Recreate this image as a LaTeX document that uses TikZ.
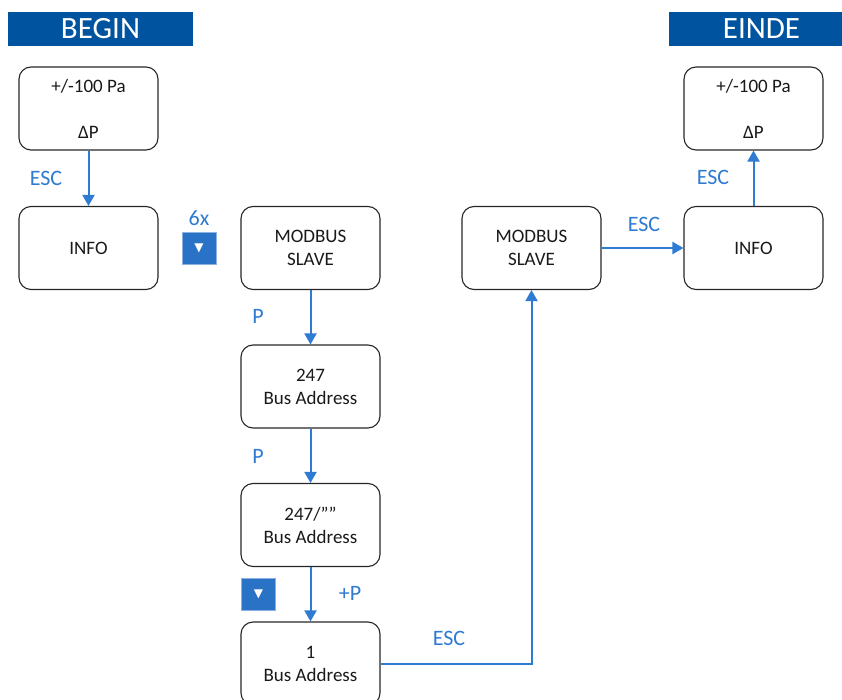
\documentclass[tikz,border=0pt]{standalone}
\usepackage{fontspec}
\setmainfont{Carlito}
\newfontfamily\symfont{DejaVu Sans}
\usetikzlibrary{arrows.meta,positioning}
\definecolor{headblue}{HTML}{00549F}
\definecolor{flowblue}{HTML}{2E7BD1}
\definecolor{keyblue}{HTML}{2A72C6}
\tikzset{
    state/.style ={
        shape=rectangle,
        rounded corners=12pt,
        draw=black!85,
        line width=1.1pt,
        minimum width=139pt,
        minimum height=83pt,
        align=center,
        text=black!90,
        font=\fontsize{19}{23}\selectfont
    },
    header/.style ={
        shape=rectangle,
        fill=headblue,
        text=white,
        minimum width=185pt,
        minimum height=34pt,
        font=\fontsize{31}{34}\selectfont
    },
    keybtn/.style ={
        shape=rectangle,
        fill=keyblue,
        draw=keyblue!55!white,
        line width=0.8pt,
        text=white,
        minimum width=34pt,
        minimum height=32pt,
        inner sep=0pt,
        font=\symfont\fontsize{12}{12}\selectfont
    },
    action/.style ={
        text=flowblue,
        inner sep=0pt,
        font=\fontsize{22}{26}\selectfont
    },
    flow/.style ={
        draw=flowblue,
        line width=2pt,
        -{Triangle[width=12pt,length=11pt]}
    }
}

\begin{document}
\begin{tikzpicture}[x=1pt,y=1pt]
    \useasboundingbox (0,0) rectangle (842,-700);
    \node[header] (begin) at (100.5,-29) {BEGIN};
    \node[header] (einde) at (761.5,-29) {EINDE};
    \node[state] (startp) at (88.5,-108.5) {+/-100 Pa\\[23pt]ΔP};
    \node[state] (infol) at (88.5,-248) {INFO};
    \node[state] (modbusl) at (310.5,-248) {MODBUS\\SLAVE};
    \node[state] (addr) at (310.5,-386.5) {247\\Bus Address};
    \node[state] (addrset) at (310.5,-525) {247/””\\Bus Address};
    \node[state] (addrone) at (310.5,-663.5) {1\\Bus Address};
    \node[state] (modbusr) at (531.5,-248) {MODBUS\\SLAVE};
    \node[state] (infor) at (753.5,-248) {INFO};
    \node[state] (endp) at (753.5,-108.5) {+/-100 Pa\\[23pt]ΔP};
    \node[keybtn] (downa) at (199,-248) {▼};
    \node[keybtn] (downb) at (258.5,-594) {▼};
    \node[action] at (46,-178) {ESC};
    \node[action, above=6pt of downa] {6x};
    \node[action] at (258,-316) {P};
    \node[action] at (258,-456) {P};
    \node[action] at (350,-593) {+P};
    \node[action] at (449,-638) {ESC};
    \node[action] at (644,-224) {ESC};
    \node[action] at (713,-177) {ESC};
    \draw[flow] (startp) -- (infol);
    \draw[flow] (modbusl) -- (addr);
    \draw[flow] (addr) -- (addrset);
    \draw[flow] (addrset) -- (addrone);
    \draw[flow] (addrone.east) -| (modbusr.south);
    \draw[flow] (modbusr) -- (infor);
    \draw[flow] (infor) -- (endp);
\end{tikzpicture}
\end{document}
